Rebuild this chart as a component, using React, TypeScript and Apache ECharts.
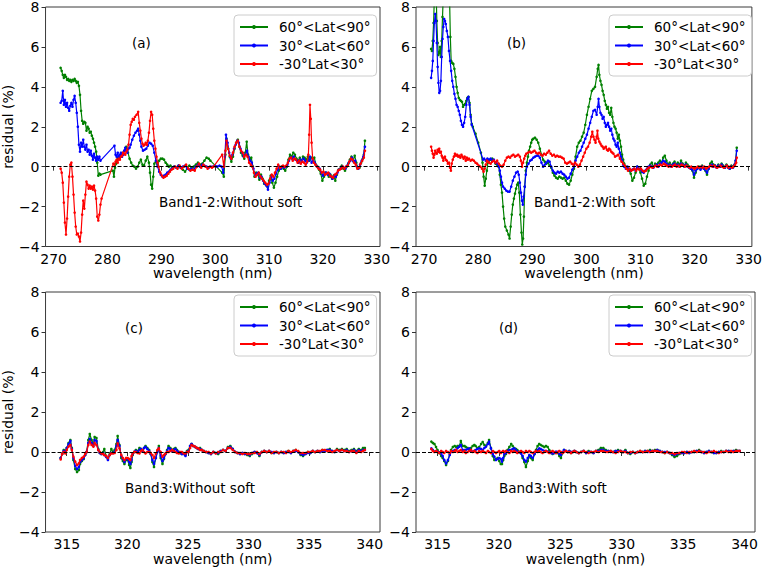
import React, { useEffect, useRef } from 'react';
import * as echarts from 'echarts';

const LEGEND_NAMES = ['60°<Lat<90°', '30°<Lat<60°', '-30°Lat<30°'];
const COLORS = ['#008000', '#0000ff', '#ff0000'];
const band12Ticks = [270, 280, 290, 300, 310, 320, 330];
const band3Ticks = [315, 320, 325, 330, 335, 340];

// (a) Band1-2 without soft
const aGreen: number[][] = [
  [271.3,4.95],[271.5,4.8],[271.7,4.6],[271.9,4.45],[272.1,4.6],[272.3,4.5],[272.5,4.35],[272.7,4.4],[272.9,4.3],[273.1,4.35],
  [273.3,4.25],[273.5,4.35],[273.7,4.3],[273.9,4.4],[274.1,4.3],[274.3,4.2],[274.5,4.25],[274.7,4.05],[274.9,3.6],[275.1,2.8],
  [275.3,2.3],[275.5,2.15],[275.7,2.25],[275.9,2.2],[276.1,1.8],[276.3,2.0],[276.5,1.9],[276.7,1.7],[276.9,1.75],[277.1,1.55],
  [277.3,1.4],[277.5,1.2],[277.7,1.0],[277.9,0.75],[278.1,0.2],[278.3,-0.45],[278.5,-0.35],[278.7,-0.4],[281.0,-0.2],[281.2,-0.5],
  [281.4,-0.05],[281.6,0.15],[281.8,0.35],[282.0,0.45],[282.3,0.55],[282.6,0.5],[282.9,0.7],[283.2,0.8],[283.5,1.0],[283.8,0.7],
  [284.1,0.4],[284.4,0.2],[284.7,0.05],[285.0,0.0],[285.3,-0.1],[285.6,0.0],[285.9,0.2],[286.2,0.35],[286.5,0.1],[286.8,0.05],
  [287.1,0.3],[287.4,0.5],[287.7,0.2],[287.9,-0.3],[288.1,-0.9],[288.3,-1.1],[288.5,-0.5],[288.7,0.15],[289.0,0.25],[289.3,0.1],
  [289.6,0.3],[289.9,0.4],[290.2,0.4],[290.5,0.35],[290.8,0.2],[291.1,0.1],[291.4,0.0],[291.7,0.05],[292.0,-0.1],[292.4,0.0],
  [292.8,-0.05],[293.2,0.05],[293.6,-0.05],[294.0,-0.15],[294.4,-0.25],[294.8,-0.1],[295.2,0.05],[295.6,-0.05],[296.0,0.0],[296.4,0.1],
  [296.8,0.2],[297.2,0.1],[297.6,0.15],[298.0,0.3],[298.4,0.45],[298.8,0.4],[299.1,0.3],[301.3,-0.3],[301.6,-0.5],[301.9,0.6],
  [302.1,1.4],[302.4,0.9],[302.7,0.5],[303.0,0.25],[303.3,0.5],[303.6,0.9],[303.9,1.2],[304.2,1.35],[304.5,1.0],[304.8,0.7],
  [305.1,0.55],[305.4,0.4],[305.6,0.7],[305.85,1.25],[306.1,0.6],[306.4,0.35],[306.7,0.45],[307.0,0.0],[307.3,-0.5],[307.6,-0.3],
  [307.9,-0.4],[308.2,-0.65],[308.5,-0.4],[308.8,-0.6],[309.1,-0.85],[309.4,-0.9],[309.7,-1.0],[310.0,-0.7],[310.3,-0.45],[310.6,-0.8],
  [310.9,-1.05],[311.2,-0.8],[311.5,-0.5],[311.8,-0.2],[312.1,-0.1],[312.4,0.0],[312.7,-0.1],[313.0,-0.2],[313.3,0.0],[313.6,0.35],
  [313.9,0.6],[314.2,0.5],[314.5,0.7],[314.8,0.6],[315.1,0.4],[315.4,0.3],[315.7,0.45],[316.0,0.3],[316.3,0.5],[316.6,0.45],
  [316.9,0.35],[317.2,0.5],[317.5,0.3],[317.8,0.45],[318.1,0.4],[318.4,0.45],[318.7,0.1],[319.0,0.0],[319.3,-0.15],[319.6,-0.35],
  [319.9,-0.7],[320.2,-0.5],[320.5,-0.3],[320.8,-0.35],[321.1,-0.5],[321.4,-0.4],[321.7,-0.6],[322.0,-0.45],[322.3,-0.7],[322.6,-0.4],
  [322.9,-0.15],[323.2,-0.1],[323.5,0.05],[323.8,-0.1],[324.1,-0.2],[324.4,0.0],[324.7,0.15],[325.0,0.35],[325.3,0.5],[325.6,0.3],
  [325.9,0.55],[326.2,0.2],[326.5,-0.1],[326.8,-0.05],[327.1,0.2],[327.4,0.4],[327.6,0.6],[327.8,1.3]
];
const aBlue: number[][] = [
  [271.3,3.2],[271.5,3.3],[271.7,3.8],[271.9,3.1],[272.1,3.35],[272.3,3.0],[272.5,3.2],[272.7,2.95],[272.9,2.8],[273.1,3.05],
  [273.3,3.2],[273.5,3.0],[273.7,3.35],[273.9,3.55],[274.1,3.2],[274.3,2.7],[274.5,2.0],[274.7,1.1],[274.9,0.75],[275.1,1.2],
  [275.3,1.0],[275.5,1.35],[275.7,1.0],[275.9,0.85],[276.1,1.1],[276.3,0.75],[276.5,0.85],[276.7,0.6],[276.9,0.8],[277.1,0.55],
  [277.3,0.35],[277.5,0.65],[277.7,0.45],[277.9,0.3],[278.1,0.5],[278.3,0.35],[278.5,0.5],[278.7,0.3],[281.3,1.05],[281.5,0.6],
  [281.7,0.5],[281.9,0.7],[282.1,0.45],[282.3,0.6],[282.5,0.7],[282.7,0.5],[282.9,0.6],[283.1,0.8],[283.3,0.95],[283.5,0.8],
  [283.7,0.7],[283.9,0.9],[284.1,0.95],[284.3,1.1],[284.6,1.35],[284.9,1.55],[285.2,1.7],[285.5,1.8],[285.7,1.9],[285.9,1.6],
  [286.1,1.3],[286.3,1.0],[286.6,0.8],[286.9,0.85],[287.2,0.9],[287.5,1.05],[287.8,1.2],[288.1,1.15],[288.4,1.05],[288.7,0.7],
  [289.0,0.3],[289.3,0.0],[289.6,-0.25],[289.9,-0.4],[290.2,-0.5],[290.5,-0.45],[290.8,-0.4],[291.1,-0.3],[291.4,-0.25],[291.7,-0.15],
  [292.0,-0.1],[292.4,0.0],[292.8,-0.05],[293.2,0.05],[293.6,-0.05],[294.0,0.0],[294.4,0.05],[294.8,-0.1],[295.2,-0.15],[295.6,-0.1],
  [296.0,-0.15],[296.4,0.0],[296.8,0.1],[297.2,0.0],[297.6,0.1],[298.0,0.05],[298.4,0.0],[298.8,-0.05],[299.2,0.0],[299.6,0.0],
  [300.0,0.05],[300.4,0.0],[300.8,0.05],[301.2,0.0],[301.5,-0.3],[301.8,0.5],[302.0,1.6],[302.3,1.2],[302.6,0.7],[302.9,0.4],
  [303.2,0.6],[303.5,0.9],[303.8,1.1],[304.1,1.3],[304.4,1.2],[304.7,0.9],[305.0,0.7],[305.3,0.5],[305.6,0.6],[305.9,0.8],
  [306.2,0.5],[306.5,0.3],[306.8,0.2],[307.1,-0.1],[307.4,-0.45],[307.7,-0.35],[308.0,-0.3],[308.3,-0.55],[308.6,-0.5],[308.9,-0.7],
  [309.2,-0.85],[309.5,-0.95],[309.8,-1.15],[310.1,-0.8],[310.4,-0.5],[310.7,-0.7],[311.0,-0.6],[311.3,-0.35],[311.6,-0.15],[311.9,0.0],
  [312.2,-0.1],[312.5,0.0],[312.8,-0.05],[313.1,0.0],[313.4,0.1],[313.7,0.3],[314.0,0.45],[314.3,0.4],[314.6,0.5],[314.9,0.35],
  [315.2,0.3],[315.5,0.2],[315.8,0.35],[316.1,0.25],[316.4,0.4],[316.7,0.3],[317.0,0.2],[317.3,0.3],[317.6,0.5],[317.9,0.2],
  [318.2,0.3],[318.5,0.2],[318.8,0.05],[319.1,-0.05],[319.4,-0.1],[319.7,-0.3],[320.0,-0.45],[320.3,-0.35],[320.6,-0.3],[320.9,-0.4],
  [321.2,-0.35],[321.5,-0.5],[321.8,-0.6],[322.1,-0.45],[322.4,-0.5],[322.7,-0.3],[323.0,-0.15],[323.3,-0.1],[323.6,0.0],[323.9,-0.05],
  [324.2,-0.1],[324.5,0.05],[324.8,0.2],[325.1,0.3],[325.4,0.45],[325.7,0.25],[326.0,0.3],[326.3,0.0],[326.6,-0.1],[326.9,0.1],
  [327.2,0.3],[327.5,0.5],[327.8,1.0]
];
const aRed: number[][] = [
  [271.3,-0.1],[271.5,-0.3],[271.7,-0.8],[271.9,-1.8],[272.1,-2.8],[272.3,-3.4],[272.5,-2.6],[272.7,-1.5],[272.9,-0.5],[273.1,0.1],
  [273.3,0.2],[273.5,-0.5],[273.7,-1.4],[273.9,-2.3],[274.1,-3.0],[274.3,-3.4],[274.5,-3.35],[274.7,-3.5],[274.9,-3.75],[275.1,-3.3],
  [275.3,-2.4],[275.5,-1.7],[275.7,-2.1],[275.9,-1.4],[276.1,-0.75],[276.3,-0.9],[276.5,-1.1],[276.7,-0.95],[276.9,-1.1],[277.1,-1.0],
  [277.3,-1.15],[277.5,-0.95],[277.7,-1.2],[277.9,-1.6],[278.1,-2.5],[278.3,-2.7],[278.5,-2.4],[278.7,-1.9],[278.9,-1.6],[281.1,0.15],
  [281.3,0.1],[281.5,0.25],[281.7,0.35],[281.9,0.2],[282.1,0.4],[282.3,0.35],[282.5,0.5],[282.7,0.55],[282.9,0.7],[283.1,0.65],
  [283.3,0.6],[283.5,0.75],[283.7,0.85],[283.9,1.1],[284.1,1.6],[284.3,2.1],[284.5,2.25],[284.7,2.4],[284.9,2.35],[285.1,2.5],
  [285.4,2.6],[285.7,2.75],[285.9,2.2],[286.1,1.8],[286.3,1.4],[286.5,1.15],[286.7,1.05],[286.9,1.1],[287.1,1.2],[287.3,1.1],
  [287.5,1.3],[287.7,1.7],[287.9,2.3],[288.1,2.75],[288.3,2.6],[288.5,1.9],[288.7,1.3],[288.9,0.9],[289.1,0.5],[289.3,0.2],
  [289.5,0.0],[289.8,-0.3],[290.1,-0.45],[290.4,-0.55],[290.7,-0.5],[291.0,-0.45],[291.3,-0.35],[291.6,-0.25],[291.9,-0.15],[292.2,-0.1],
  [292.6,0.0],[293.0,-0.1],[293.4,0.05],[293.8,-0.1],[294.2,0.0],[294.6,0.1],[295.0,-0.1],[295.4,-0.2],[295.8,-0.15],[296.2,-0.2],
  [296.6,0.0],[297.0,0.15],[297.4,-0.05],[297.8,0.1],[298.2,0.0],[298.6,-0.1],[299.0,0.0],[299.4,-0.05],[299.7,0.0],[301.3,0.6],
  [301.6,0.0],[301.9,0.8],[302.1,1.3],[302.4,0.9],[302.7,0.55],[303.0,0.4],[303.3,0.7],[303.6,1.0],[303.9,1.2],[304.2,1.3],
  [304.5,1.0],[304.8,0.8],[305.1,0.7],[305.4,0.5],[305.7,0.6],[306.0,0.5],[306.3,0.2],[306.6,0.1],[306.9,0.0],[307.2,-0.3],
  [307.5,-0.5],[307.8,-0.4],[308.1,-0.3],[308.4,-0.5],[308.7,-0.6],[309.0,-0.7],[309.3,-0.8],[309.6,-0.9],[309.9,-0.85],[310.2,-0.6],
  [310.5,-0.4],[310.8,-0.5],[311.1,-0.3],[311.4,-0.1],[311.7,0.1],[312.0,-0.05],[312.3,0.0],[312.6,0.05],[312.9,0.0],[313.2,0.05],
  [313.5,0.2],[313.8,0.4],[314.1,0.45],[314.4,0.3],[314.7,0.4],[315.0,0.35],[315.3,0.2],[315.6,0.3],[315.9,0.15],[316.2,0.25],
  [316.5,0.2],[316.8,0.1],[317.1,0.25],[317.3,0.6],[317.45,1.6],[317.6,3.1],[317.75,2.4],[317.9,1.2],[318.1,0.4],[318.3,0.2],
  [318.6,0.1],[318.9,0.0],[319.2,-0.1],[319.5,-0.15],[319.8,-0.3],[320.1,-0.25],[320.4,-0.4],[320.7,-0.35],[321.0,-0.3],[321.3,-0.45],
  [321.6,-0.5],[321.9,-0.55],[322.2,-0.4],[322.5,-0.35],[322.8,-0.2],[323.1,-0.15],[323.4,-0.1],[323.7,0.0],[324.0,-0.1],[324.3,0.0],
  [324.6,0.05],[324.9,0.25],[325.2,0.4],[325.5,0.35],[325.8,0.2],[326.1,0.1],[326.4,-0.1],[326.7,-0.05],[327.0,0.15],[327.3,0.3],
  [327.6,0.45],[327.8,0.8]
];

// (b) Band1-2 with soft
const bGreen: number[][] = [
  [271.3,5.9],[271.45,5.8],[271.6,6.3],[271.75,7.2],[271.9,8.5],[272.05,9.5],[272.2,9.0],[272.35,7.3],[272.5,6.2],[272.65,5.6],
  [272.8,5.7],[272.95,6.0],[273.1,5.5],[273.25,6.3],[273.4,7.5],[273.55,8.6],[273.7,9.5],[273.9,10],[274.2,10],[274.5,9.5],
  [274.7,8.5],[274.85,6.5],[275.0,5.3],[275.2,5.2],[275.4,5.15],[275.6,4.9],[275.8,4.5],[276.0,4.0],[276.2,3.7],[276.4,3.45],
  [276.6,3.35],[276.8,3.3],[277.0,3.25],[277.2,3.0],[277.4,3.1],[277.6,3.15],[277.8,3.3],[278.0,3.45],[278.2,3.5],[278.4,3.2],
  [278.6,2.6],[278.8,2.15],[279.0,2.0],[279.5,1.65],[280.0,1.2],[280.5,0.7],[280.8,0.2],[281.0,-0.5],[281.2,-0.95],[281.4,-0.6],
  [281.6,-0.2],[281.8,0.2],[282.0,0.3],[282.3,0.35],[282.6,0.4],[282.9,0.3],[283.2,0.15],[283.5,0.1],[283.8,0.0],[284.0,-0.4],
  [284.2,-0.9],[284.4,-1.3],[284.6,-2.0],[284.8,-2.6],[285.0,-3.0],[285.3,-3.2],[285.6,-3.4],[285.8,-3.6],[286.0,-3.0],[286.2,-2.4],
  [286.4,-1.9],[286.6,-1.6],[286.8,-1.35],[287.0,-1.1],[287.2,-0.9],[287.4,-0.8],[287.6,-1.3],[287.8,-2.4],[288.0,-3.3],[288.15,-3.9],
  [288.3,-3.6],[288.45,-2.5],[288.6,-1.0],[288.8,-0.2],[289.0,0.2],[289.2,0.5],[289.4,0.8],[289.6,1.0],[289.8,1.2],[290.0,1.35],
  [290.2,1.4],[290.5,1.45],[290.8,1.35],[291.1,1.2],[291.4,0.9],[291.7,0.6],[292.0,0.35],[292.3,0.25],[292.6,0.15],[292.9,0.2],
  [293.2,0.05],[293.5,-0.05],[293.8,-0.3],[294.1,-0.45],[294.4,-0.55],[294.7,-0.6],[295.0,-0.5],[295.3,-0.55],[295.6,-0.6],[295.9,-0.55],
  [296.2,-0.7],[296.5,-0.85],[296.8,-0.9],[297.1,-0.7],[297.4,-0.4],[297.7,-0.1],[298.0,0.5],[298.3,1.0],[298.6,1.2],[298.9,1.3],
  [299.2,1.5],[299.5,1.7],[299.8,2.1],[300.1,2.6],[300.4,3.0],[300.7,3.4],[301.0,3.8],[301.3,3.9],[301.6,4.0],[301.9,4.5],
  [302.1,4.9],[302.25,5.1],[302.4,4.6],[302.6,4.3],[302.8,4.1],[303.0,3.8],[303.2,3.6],[303.4,3.3],[303.6,3.1],[303.8,2.9],
  [304.0,3.0],[304.2,2.7],[304.4,2.6],[304.6,2.95],[304.8,2.5],[305.0,2.2],[305.2,2.0],[305.4,1.9],[305.6,1.7],[305.8,1.4],
  [306.0,1.6],[306.2,1.3],[306.4,1.0],[306.6,0.6],[306.8,0.35],[307.0,0.15],[307.3,0.0],[307.6,-0.1],[307.9,-0.2],[308.2,-0.35],
  [308.5,-0.7],[308.8,-0.55],[309.1,-0.3],[309.4,0.0],[309.7,-0.1],[310.0,-0.3],[310.3,-0.6],[310.6,-0.95],[310.9,-0.85],[311.2,-0.5],
  [311.5,-0.2],[311.8,0.1],[312.1,0.2],[312.4,0.0],[312.7,0.15],[313.0,0.1],[313.3,0.2],[313.6,0.3],[313.9,0.2],[314.2,0.45],
  [314.5,0.55],[314.8,0.3],[315.1,0.1],[315.4,0.2],[315.7,0.05],[316.0,0.15],[316.3,0.25],[316.6,0.1],[316.9,0.2],[317.2,0.1],
  [317.5,0.3],[317.8,0.15],[318.1,0.05],[318.4,0.2],[318.7,0.1],[319.0,0.0],[319.3,-0.1],[319.6,-0.2],[319.9,-0.55],[320.2,-0.3],
  [320.5,-0.1],[320.8,0.0],[321.1,-0.1],[321.4,0.05],[321.7,-0.05],[322.0,-0.2],[322.3,-0.4],[322.6,-0.1],[322.9,0.15],[323.2,0.25],
  [323.5,0.1],[323.8,0.05],[324.1,-0.05],[324.4,0.1],[324.7,0.0],[325.0,0.15],[325.3,0.05],[325.6,-0.05],[325.9,0.1],[326.2,0.0],
  [326.5,-0.1],[326.8,0.05],[327.1,0.0],[327.4,0.1],[327.6,0.3],[327.8,0.95]
];
const bBlue: number[][] = [
  [271.3,4.45],[271.45,4.8],[271.6,5.3],[271.75,6.3],[271.9,7.2],[272.05,7.65],[272.2,7.3],[272.35,6.2],[272.5,5.0],[272.65,4.2],
  [272.8,3.7],[272.95,3.8],[273.1,4.3],[273.25,5.5],[273.4,6.4],[273.55,7.0],[273.7,7.4],[273.85,7.3],[274.0,7.15],[274.2,6.8],
  [274.4,6.5],[274.6,5.8],[274.8,5.3],[275.0,4.8],[275.2,4.3],[275.4,4.0],[275.6,3.65],[275.8,3.4],[276.0,3.1],[276.2,3.0],
  [276.4,2.8],[276.6,2.6],[276.8,2.3],[277.0,2.1],[277.2,2.0],[277.4,2.2],[277.6,2.5],[277.8,3.1],[278.0,3.4],[278.2,3.5],
  [278.4,3.1],[278.6,2.5],[278.8,2.1],[280.9,0.35],[281.1,0.4],[281.4,0.3],[281.7,0.4],[282.0,0.35],[282.3,0.4],[282.6,0.3],
  [282.9,0.35],[283.2,0.2],[283.5,0.15],[283.8,0.0],[284.0,-0.2],[284.2,-0.5],[284.4,-0.8],[284.6,-1.0],[284.9,-1.1],[285.2,-1.2],
  [285.5,-1.25],[285.8,-1.25],[286.1,-1.0],[286.4,-0.7],[286.7,-0.5],[287.0,-0.3],[287.3,-0.25],[287.5,-0.4],[287.7,-0.8],[287.9,-1.3],
  [288.1,-1.7],[288.25,-1.9],[288.4,-1.5],[288.6,-1.0],[288.8,-0.4],[289.0,0.0],[289.3,0.15],[289.6,0.3],[289.9,0.35],[290.2,0.45],
  [290.5,0.5],[290.8,0.55],[291.1,0.55],[291.4,0.45],[291.7,0.2],[292.0,0.0],[292.3,0.1],[292.6,0.2],[292.9,0.3],[293.2,0.25],
  [293.5,0.0],[293.8,-0.2],[294.1,-0.3],[294.4,-0.35],[294.7,-0.25],[295.0,-0.3],[295.3,-0.25],[295.6,-0.35],[295.9,-0.4],[296.2,-0.5],
  [296.5,-0.6],[296.8,-0.55],[297.1,-0.35],[297.4,-0.15],[297.7,0.0],[298.0,0.3],[298.3,0.5],[298.6,0.7],[298.9,0.8],[299.2,1.0],
  [299.5,1.2],[299.8,1.4],[300.1,1.6],[300.4,1.9],[300.7,2.2],[301.0,2.5],[301.3,2.8],[301.6,2.85],[301.9,2.6],[302.1,3.0],
  [302.25,3.4],[302.4,3.0],[302.6,2.7],[302.8,2.6],[303.0,2.4],[303.2,2.5],[303.4,2.2],[303.6,2.0],[303.8,2.1],[304.0,2.2],
  [304.2,2.0],[304.4,1.8],[304.6,1.9],[304.8,1.6],[305.0,1.4],[305.2,1.3],[305.4,1.1],[305.6,1.0],[305.8,1.2],[306.0,0.9],
  [306.2,0.7],[306.4,0.5],[306.6,0.3],[306.8,0.1],[307.0,0.0],[307.3,-0.1],[307.6,0.0],[307.9,-0.15],[308.2,-0.2],[308.5,-0.15],
  [308.8,-0.1],[309.1,-0.2],[309.4,0.0],[309.7,-0.1],[310.0,-0.15],[310.3,-0.25],[310.6,-0.3],[310.9,-0.2],[311.2,-0.1],[311.5,0.0],
  [311.8,0.05],[312.1,0.0],[312.4,-0.05],[312.7,0.05],[313.0,0.1],[313.3,0.0],[313.6,0.15],[313.9,0.2],[314.2,0.3],[314.5,0.25],
  [314.8,0.15],[315.1,0.05],[315.4,0.1],[315.7,0.0],[316.0,0.1],[316.3,0.15],[316.6,0.05],[316.9,0.1],[317.2,0.0],[317.5,0.15],
  [317.8,0.1],[318.1,0.0],[318.4,0.1],[318.7,0.0],[319.0,-0.05],[319.3,-0.1],[319.6,-0.15],[319.9,-0.4],[320.2,-0.2],[320.5,-0.1],
  [320.8,-0.05],[321.1,-0.15],[321.4,0.0],[321.7,-0.1],[322.0,-0.15],[322.3,-0.3],[322.6,-0.1],[322.9,0.05],[323.2,0.1],[323.5,0.0],
  [323.8,0.05],[324.1,-0.05],[324.4,0.05],[324.7,0.0],[325.0,0.1],[325.3,0.0],[325.6,-0.05],[325.9,0.05],[326.2,-0.05],[326.5,-0.1],
  [326.8,0.0],[327.1,-0.05],[327.4,0.1],[327.6,0.3],[327.8,0.8]
];
const bRed: number[][] = [
  [271.3,1.0],[271.45,0.8],[271.6,0.65],[271.75,0.45],[271.9,0.6],[272.05,0.8],[272.2,0.7],[272.35,0.65],[272.5,0.85],[272.65,0.75],
  [272.8,0.9],[272.95,0.7],[273.1,0.75],[273.25,0.55],[273.4,0.45],[273.55,0.3],[273.7,0.45],[273.85,0.5],[274.0,0.35],[274.2,0.3],
  [274.4,0.15],[274.6,0.2],[274.8,-0.05],[274.95,-0.2],[275.1,0.15],[275.3,0.35],[275.5,0.5],[275.7,0.65],[275.9,0.55],[276.1,0.6],
  [276.3,0.5],[276.5,0.55],[276.7,0.45],[276.9,0.6],[277.1,0.5],[277.3,0.4],[277.5,0.5],[277.7,0.3],[277.9,0.45],[278.1,0.35],
  [278.3,0.4],[278.6,0.3],[278.9,0.35],[279.2,0.3],[279.5,0.2],[279.8,0.15],[280.1,0.05],[280.4,0.0],[280.7,-0.1],[281.0,-0.25],
  [281.2,-0.1],[281.4,0.1],[281.6,0.3],[281.8,0.25],[282.0,0.2],[282.3,0.15],[282.6,0.25],[282.9,0.3],[283.2,0.2],[283.5,0.3],
  [283.8,0.15],[284.1,0.05],[284.4,0.0],[284.7,0.1],[285.0,0.3],[285.3,0.45],[285.6,0.5],[285.9,0.45],[286.2,0.55],[286.5,0.6],
  [286.8,0.5],[287.1,0.55],[287.4,0.6],[287.7,0.5],[287.9,0.3],[288.1,0.0],[288.3,0.2],[288.5,0.4],[288.7,0.55],[288.9,0.65],
  [289.2,0.7],[289.5,0.75],[289.8,0.7],[290.1,0.75],[290.4,0.8],[290.7,0.7],[291.0,0.65],[291.3,0.7],[291.6,0.6],[291.9,0.55],
  [292.2,0.65],[292.5,0.6],[292.8,0.7],[293.1,0.8],[293.4,0.65],[293.7,0.55],[294.0,0.6],[294.3,0.5],[294.6,0.55],[294.9,0.5],
  [295.2,0.5],[295.5,0.45],[295.8,0.4],[296.1,0.2],[296.4,0.15],[296.7,0.2],[297.0,0.25],[297.3,0.15],[297.6,0.1],[297.9,0.2],
  [298.2,0.1],[298.5,0.0],[298.8,0.1],[299.1,0.3],[299.4,0.5],[299.7,0.7],[300.0,0.9],[300.3,1.0],[300.6,1.2],[300.9,1.5],
  [301.1,1.75],[301.3,1.5],[301.5,1.35],[301.7,1.2],[301.9,1.5],[302.05,1.8],[302.2,1.4],[302.4,1.25],[302.6,1.15],[302.8,1.05],
  [303.0,1.0],[303.2,0.9],[303.4,0.95],[303.6,1.0],[303.8,0.85],[304.0,0.8],[304.2,0.9],[304.4,0.85],[304.6,0.75],[304.8,0.7],
  [305.0,0.65],[305.3,0.5],[305.6,0.55],[305.9,0.6],[306.2,0.4],[306.5,0.25],[306.8,0.15],[307.1,0.05],[307.4,-0.1],[307.7,-0.2],
  [308.0,-0.1],[308.3,-0.2],[308.6,-0.15],[308.9,-0.1],[309.2,-0.2],[309.5,-0.1],[309.8,-0.15],[310.1,-0.1],[310.4,-0.2],[310.7,-0.25],
  [311.0,-0.2],[311.3,-0.1],[311.6,-0.05],[311.9,0.0],[312.2,-0.05],[312.5,0.0],[312.8,0.05],[313.1,0.0],[313.4,0.05],[313.7,0.1],
  [314.0,0.05],[314.3,0.15],[314.6,0.1],[314.9,0.05],[315.2,0.0],[315.5,0.05],[315.8,0.0],[316.1,0.05],[316.4,0.1],[316.7,0.0],
  [317.0,0.05],[317.3,0.0],[317.6,0.1],[317.9,0.05],[318.2,0.0],[318.5,0.05],[318.8,0.0],[319.1,-0.05],[319.4,0.0],[319.7,-0.05],
  [320.0,-0.1],[320.3,-0.05],[320.6,0.0],[320.9,-0.05],[321.2,0.0],[321.5,-0.05],[321.8,0.0],[322.1,-0.1],[322.4,-0.05],[322.7,0.0],
  [323.0,0.05],[323.3,0.0],[323.6,0.05],[323.9,0.0],[324.2,-0.05],[324.5,0.0],[324.8,0.05],[325.1,0.0],[325.4,-0.05],[325.7,0.0],
  [326.0,0.05],[326.3,-0.05],[326.6,0.0],[326.9,-0.05],[327.2,0.0],[327.5,0.1],[327.7,0.2],[327.8,0.45]
];

// Band3 wavelengths shared by (c) and (d)
const band3X = [
  314.5, 314.62, 314.75, 314.88, 315.0, 315.15, 315.3, 315.42, 315.55, 315.7,
  315.85, 316.0, 316.1, 316.25, 316.4, 316.52, 316.64, 316.78, 316.9, 317.05,
  317.2, 317.3, 317.45, 317.6, 317.73, 317.86, 318.0, 318.1, 318.25, 318.4,
  318.55, 318.68, 318.82, 318.95, 319.1, 319.2, 319.35, 319.5, 319.63, 319.76,
  319.9, 320.03, 320.15, 320.25, 320.35, 320.44, 320.57, 320.7, 320.85, 321.0,
  321.12, 321.25, 321.38, 321.5, 321.65, 321.8, 321.93, 322.07, 322.2, 322.35,
  322.48, 322.6, 322.75, 322.9, 323.02, 323.15, 323.28, 323.4, 323.55, 323.7,
  323.83, 323.97, 324.1, 324.24, 324.37, 324.5, 324.65, 324.8, 324.92, 325.05,
  325.18, 325.3, 325.45, 325.6, 325.73, 325.87, 326.0, 326.15, 326.3, 326.5,
  326.7, 326.9, 327.1, 327.3, 327.5, 327.7, 327.9, 328.1, 328.3, 328.5,
  328.7, 328.9, 329.1, 329.3, 329.5, 329.7, 329.9, 330.1, 330.3, 330.5,
  330.7, 330.9, 331.1, 331.3, 331.5, 331.7, 331.9, 332.1, 332.3, 332.5,
  332.7, 332.9, 333.1, 333.3, 333.5, 333.7, 333.9, 334.1, 334.3, 334.5,
  334.7, 334.9, 335.1, 335.3, 335.5, 335.7, 335.9, 336.1, 336.3, 336.5,
  336.7, 336.9, 337.1, 337.3, 337.5, 337.7, 337.9, 338.1, 338.3, 338.5,
  338.7, 338.9, 339.1, 339.3, 339.45, 339.6
];
// (c) Band3 without soft
const cGreen = [
  -0.3, -0.1, 0.1, 0.05, 0.2, 0.45, 0.6, 0.2, -0.4, -0.85,
  -1.0, -0.9, -0.6, -0.45, -0.35, -0.15, 0.0, 0.6, 0.9, 0.6,
  0.4, 0.75, 0.7, 0.15, -0.05, -0.1, 0.0, 0.15, -0.2, -0.35,
  -0.1, 0.15, 0.0, 0.1, 0.4, 0.8, 0.35, -0.3, -0.45, -0.6,
  -0.4, -0.4, -0.65, -0.8, -0.5, -0.15, 0.0, 0.1, 0.05, 0.2,
  0.15, 0.1, 0.2, 0.3, 0.2, 0.1, -0.1, -0.5, -0.75, -0.3,
  0.05, 0.3, -0.3, -0.6, -0.35, -0.1, 0.1, 0.3, 0.2, 0.1,
  0.15, 0.2, 0.1, 0.0, -0.05, -0.1, -0.05, -0.15, 0.05, 0.1,
  0.3, 0.4, 0.3, 0.25, 0.2, 0.15, 0.2, 0.1, 0.05, 0.0,
  -0.05, -0.1, 0.0, -0.05, -0.1, 0.05, 0.1, 0.05, 0.25, 0.3,
  0.15, 0.0, -0.05, -0.1, -0.05, -0.1, -0.15, -0.2, -0.1, 0.0,
  -0.05, -0.2, 0.0, 0.05, 0.0, 0.05, -0.05, -0.05, 0.0, -0.05,
  0.0, -0.05, 0.0, 0.05, -0.05, 0.05, 0.1, 0.0, -0.15, -0.2,
  -0.1, 0.0, -0.05, 0.05, 0.0, 0.05, 0.0, 0.1, 0.05, 0.1,
  0.15, 0.05, 0.0, 0.15, 0.1, 0.15, 0.1, 0.15, 0.05, 0.1,
  0.15, 0.05, 0.15, 0.1, 0.2, 0.2
];
const cBlue = [
  -0.3, -0.1, 0.05, 0.0, 0.2, 0.4, 0.55, 0.15, -0.3, -0.7,
  -0.85, -0.75, -0.5, -0.4, -0.3, -0.15, 0.0, 0.45, 0.65, 0.45,
  0.3, 0.6, 0.55, 0.1, -0.05, -0.1, -0.05, -0.15, -0.25, -0.4,
  -0.15, -0.05, -0.05, 0.0, 0.3, 0.6, 0.3, -0.2, -0.35, -0.5,
  -0.35, -0.35, -0.5, -0.6, -0.4, -0.1, 0.0, 0.05, 0.0, 0.1,
  0.15, 0.05, 0.2, 0.25, 0.15, 0.05, -0.1, -0.4, -0.6, -0.3,
  0.0, 0.2, -0.2, -0.45, -0.3, -0.1, 0.05, 0.2, 0.15, 0.05,
  0.1, 0.15, 0.05, 0.0, -0.05, -0.1, -0.1, -0.2, 0.0, 0.05,
  0.3, 0.4, 0.3, 0.25, 0.2, 0.15, 0.15, 0.1, 0.05, 0.0,
  -0.05, -0.1, 0.0, -0.05, -0.05, 0.05, 0.1, 0.05, 0.2, 0.25,
  0.15, 0.0, -0.05, -0.1, -0.05, -0.1, -0.1, -0.15, -0.05, 0.0,
  -0.05, -0.15, 0.0, 0.05, 0.0, 0.05, 0.0, -0.05, 0.0, -0.05,
  0.0, -0.05, 0.0, 0.0, -0.05, 0.05, 0.05, 0.0, -0.1, -0.15,
  -0.1, -0.05, -0.05, 0.05, 0.0, 0.05, 0.0, 0.05, 0.05, 0.1,
  0.1, 0.05, 0.0, 0.1, 0.05, 0.1, 0.05, 0.1, 0.0, 0.05,
  0.1, 0.0, 0.1, 0.05, 0.1, 0.1
];
const cRed = [
  -0.37, -0.1, 0.0, -0.07, 0.1, 0.27, 0.35, 0.1, -0.23, -0.48,
  -0.65, -0.57, -0.4, -0.3, -0.23, -0.1, 0.0, 0.35, 0.52, 0.35,
  0.27, 0.45, 0.35, 0.1, 0.0, -0.07, -0.1, -0.15, -0.2, -0.3,
  -0.15, -0.07, -0.07, -0.05, 0.1, 0.43, 0.18, -0.15, -0.3, -0.4,
  -0.3, -0.3, -0.35, -0.4, -0.2, -0.07, 0.0, 0.0, -0.05, -0.07,
  0.05, 0.1, 0.0, -0.07, 0.0, 0.0, -0.05, -0.15, -0.3, -0.07,
  0.1, 0.18, 0.0, -0.23, -0.15, -0.07, 0.0, 0.0, 0.05, 0.1,
  0.05, 0.0, -0.05, -0.07, 0.0, 0.0, -0.07, -0.07, 0.0, 0.0,
  0.2, 0.35, 0.3, 0.27, 0.2, 0.18, 0.1, 0.1, 0.05, 0.0,
  0.0, -0.07, 0.0, -0.07, 0.0, 0.0, 0.1, 0.05, 0.2, 0.2,
  0.1, 0.0, -0.05, -0.05, -0.1, -0.05, -0.1, -0.1, -0.05, -0.05,
  0.0, -0.1, 0.0, 0.05, 0.0, 0.05, -0.05, 0.0, 0.0, -0.05,
  0.0, 0.0, -0.05, 0.05, 0.0, 0.05, 0.1, 0.05, -0.05, -0.05,
  -0.05, 0.0, 0.0, 0.05, 0.0, 0.05, 0.05, 0.1, 0.1, 0.05,
  0.05, 0.0, 0.05, 0.1, 0.05, 0.1, 0.05, 0.05, 0.0, 0.05,
  0.05, -0.05, 0.05, 0.0, 0.05, 0.1
];
// (d) Band3 with soft
const dGreen = [
  0.52, 0.45, 0.4, 0.25, 0.1, -0.05, -0.2, -0.3, -0.45, -0.65,
  -0.45, -0.1, 0.1, 0.25, 0.3, 0.25, 0.3, 0.3, 0.55, 0.3,
  0.3, 0.25, 0.2, 0.1, 0.2, 0.3, 0.35, 0.3, 0.2, 0.25,
  0.4, 0.5, 0.35, 0.3, 0.45, 0.6, 0.2, -0.2, -0.4, -0.35,
  -0.3, -0.45, -0.6, -0.6, -0.4, -0.2, -0.1, 0.1, 0.25, 0.4,
  0.3, 0.2, 0.15, 0.1, 0.0, -0.05, -0.3, -0.5, -0.75, -0.45,
  -0.2, -0.3, -0.4, -0.1, 0.1, 0.3, 0.4, 0.35, 0.3, 0.25,
  0.3, 0.25, 0.1, 0.0, -0.1, -0.05, -0.05, -0.05, -0.2, -0.3,
  -0.05, 0.1, 0.05, 0.0, 0.05, -0.05, 0.0, 0.05, 0.0, -0.05,
  0.0, 0.05, -0.05, 0.05, 0.0, -0.05, 0.05, 0.1, 0.2, 0.2,
  0.1, 0.05, 0.05, 0.0, 0.05, 0.1, 0.05, 0.0, 0.1, -0.05,
  -0.1, 0.0, -0.05, 0.0, 0.05, 0.0, 0.05, 0.05, 0.1, 0.05,
  0.1, 0.1, 0.05, 0.0, -0.05, 0.0, -0.05, -0.15, -0.25, -0.2,
  -0.1, -0.05, -0.05, 0.0, -0.05, 0.0, 0.0, 0.05, 0.1, 0.0,
  -0.05, 0.0, 0.05, 0.0, -0.05, -0.05, 0.0, 0.05, 0.0, 0.05,
  0.05, 0.0, 0.05, 0.1, 0.05, 0.05
];
const dBlue = [
  0.18, 0.1, 0.02, 0.02, 0.02, -0.02, -0.07, -0.2, -0.4, -0.57,
  -0.4, -0.15, 0.0, 0.05, 0.1, 0.1, 0.2, 0.27, 0.35, 0.1,
  0.1, 0.1, 0.15, 0.18, 0.05, 0.02, 0.05, 0.1, 0.15, 0.18,
  0.15, 0.1, 0.2, 0.27, 0.4, 0.52, 0.18, -0.1, -0.23, -0.4,
  -0.35, -0.3, -0.35, -0.48, -0.3, -0.1, -0.05, 0.05, 0.1, 0.1,
  0.15, 0.18, 0.1, 0.02, 0.0, -0.07, -0.2, -0.4, -0.48, -0.3,
  -0.15, -0.2, -0.3, -0.1, 0.02, 0.1, 0.18, 0.15, 0.1, 0.05,
  0.05, 0.02, 0.0, -0.05, -0.07, -0.05, 0.02, 0.0, -0.1, -0.15,
  0.0, 0.1, 0.05, 0.0, 0.05, 0.0, 0.0, 0.05, 0.0, -0.05,
  0.0, 0.05, -0.05, 0.0, 0.0, -0.05, 0.05, 0.05, 0.1, 0.1,
  0.05, 0.05, 0.0, 0.0, 0.05, 0.05, 0.05, 0.0, 0.05, -0.05,
  -0.05, 0.0, -0.05, 0.0, 0.0, 0.0, 0.05, 0.0, 0.05, 0.05,
  0.05, 0.1, 0.05, 0.0, 0.0, 0.0, -0.05, -0.1, -0.15, -0.1,
  -0.05, -0.05, -0.05, 0.0, -0.05, 0.0, 0.0, 0.05, 0.05, 0.0,
  -0.05, 0.0, 0.05, 0.0, -0.05, -0.05, 0.0, 0.0, 0.0, 0.05,
  0.05, 0.0, 0.05, 0.05, 0.05, 0.05
];
const dRed = [
  0.15, 0.05, 0.0, 0.05, 0.0, -0.05, 0.05, 0.0, -0.05, 0.05,
  0.0, -0.05, 0.05, 0.0, 0.05, 0.1, 0.0, 0.05, 0.1, 0.0,
  0.05, -0.05, 0.0, 0.05, 0.1, 0.0, 0.05, 0.0, -0.05, 0.05,
  0.0, 0.05, 0.0, -0.05, 0.05, 0.0, -0.05, 0.05, 0.0, -0.05,
  0.0, 0.05, -0.05, 0.0, 0.05, 0.0, 0.05, 0.0, -0.05, 0.05,
  0.0, 0.05, 0.0, -0.05, 0.0, 0.05, 0.0, -0.05, 0.05, 0.0,
  0.05, 0.0, -0.05, 0.0, 0.05, 0.0, 0.05, 0.0, -0.05, 0.0,
  0.05, 0.0, -0.05, 0.0, 0.05, 0.0, -0.05, 0.0, 0.05, 0.0,
  -0.05, 0.0, 0.05, 0.0, 0.0, -0.05, 0.0, 0.05, 0.0, -0.05,
  0.0, 0.05, 0.0, -0.05, 0.0, 0.0, 0.05, 0.0, 0.05, 0.05,
  0.0, 0.0, 0.05, 0.0, -0.05, 0.0, 0.05, 0.0, 0.0, -0.05,
  0.0, 0.0, -0.05, 0.0, 0.05, 0.0, 0.0, 0.05, 0.0, 0.05,
  0.05, 0.05, 0.0, 0.0, -0.05, 0.0, -0.05, -0.05, -0.1, -0.05,
  -0.05, 0.0, 0.0, -0.05, 0.0, 0.0, 0.05, 0.0, 0.05, 0.0,
  0.0, -0.05, 0.0, 0.0, 0.05, 0.0, -0.05, 0.0, 0.0, 0.05,
  0.0, 0.05, 0.0, 0.05, 0.05, 0.05
];

const FONT = 'DejaVu Sans';

function zip(xs: number[], ys: number[]): number[][] {
  const out: number[][] = [];
  const n = Math.min(xs.length, ys.length);
  for (let i = 0; i < n; i++) out.push([xs[i], ys[i]]);
  return out;
}

export default function App() {
  const ref = useRef<HTMLDivElement>(null);
  useEffect(() => {
    document.body.style.margin = '0';
    if (!ref.current) return;
    const chart = echarts.init(ref.current, undefined, { renderer: 'svg' });

    const panels = [
      { grid: { left: 41, top: 6.5, width: 339, height: 240 }, range: [268.5, 330.6], ticks: band12Ticks,
        data: [aGreen, aBlue, aRed], yName: true, legend: { left: 234, top: 15 },
        tag: ['(a)', 132, 43], note: ['Band1-2:Without soft', 159, 202] },
      { grid: { left: 416, top: 6.5, width: 340, height: 240 }, range: [268.5, 330.6], ticks: band12Ticks,
        data: [bGreen, bBlue, bRed], yName: false, legend: { left: 609, top: 15 },
        tag: ['(b)', 507, 43], note: ['Band1-2:With soft', 534, 202] },
      { grid: { left: 41, top: 292, width: 339, height: 240 }, range: [313.25, 340.85], ticks: band3Ticks,
        data: [zip(band3X, cGreen), zip(band3X, cBlue), zip(band3X, cRed)], yName: true, legend: { left: 234, top: 295 },
        tag: ['(c)', 125, 328], note: ['Band3:Without soft', 125, 488] },
      { grid: { left: 416, top: 292, width: 339, height: 240 }, range: [313.25, 340.85], ticks: band3Ticks,
        data: [zip(band3X, dGreen), zip(band3X, dBlue), zip(band3X, dRed)], yName: false, legend: { left: 609, top: 295 },
        tag: ['(d)', 499, 328], note: ['Band3:With soft', 499, 488] },
    ];

    const grids = panels.map((p) => ({ ...p.grid, show: true, borderColor: '#3a3a3a', borderWidth: 1, backgroundColor: 'transparent' }));
    const xAxes = panels.map((p, i) => ({
      type: 'value', gridIndex: i, min: p.range[0], max: p.range[1],
      axisLine: { show: false },
      axisTick: { show: true, inside: false, length: 4, lineStyle: { color: '#333' }, customValues: p.ticks },
      axisLabel: { show: true, customValues: p.ticks, fontSize: 14, color: '#000', fontFamily: FONT, margin: 5 },
      splitLine: { show: false },
      name: 'wavelength (nm)', nameLocation: 'middle', nameGap: 19,
      nameTextStyle: { fontSize: 14, color: '#000', fontFamily: FONT },
    }));
    const yAxes = panels.map((p, i) => ({
      type: 'value', gridIndex: i, min: -4, max: 8, interval: 2,
      axisLine: { show: false },
      axisTick: { show: true, inside: false, length: 4, lineStyle: { color: '#333' } },
      axisLabel: { fontSize: 14, color: '#000', fontFamily: FONT, margin: 6,
        formatter: (v: number) => String(v).replace('-', '\u2212') },
      splitLine: { show: false },
      name: p.yName ? 'residual (%)' : '', nameLocation: 'middle', nameGap: 26,
      nameTextStyle: { fontSize: 14, color: '#000', fontFamily: FONT },
    }));

    const series: any[] = [];
    panels.forEach((p, i) => {
      p.data.forEach((d, k) => {
        series.push({
          type: 'line', name: LEGEND_NAMES[k], xAxisIndex: i, yAxisIndex: i, data: d,
          symbol: 'circle', symbolSize: 2.6, showSymbol: true, showAllSymbol: true,
          lineStyle: { width: 1.2, color: COLORS[k] }, itemStyle: { color: COLORS[k] },
          emphasis: { disabled: true }, silent: true, clip: true, z: 2 + k,
          markLine: k === 2 ? {
            silent: true, symbol: 'none', label: { show: false },
            lineStyle: { color: '#000', type: [4, 2], width: 1 },
            data: [{ yAxis: 0 }],
          } : undefined,
        });
      });
    });

    const legends = panels.map((p) => ({
      left: p.legend.left, top: p.legend.top, orient: 'vertical', data: LEGEND_NAMES,
      itemWidth: 28, itemHeight: 5, itemGap: 4.5, padding: [5, 6, 5, 5],
      backgroundColor: '#ffffff', borderColor: '#cccccc', borderWidth: 1, borderRadius: 4,
      selectedMode: false,
      textStyle: { fontSize: 13.5, color: '#000', fontFamily: FONT, padding: [0, 0, 0, 6] },
    }));

    const graphics: any[] = [];
    panels.forEach((p) => {
      [p.tag, p.note].forEach((t: any) => {
        graphics.push({
          type: 'text', x: t[1], y: t[2], silent: true,
          style: { text: t[0], fill: '#000', font: `13.5px "${FONT}"`, align: 'left', verticalAlign: 'middle' },
        });
      });
    });

    chart.setOption({
      animation: false,
      textStyle: { fontFamily: FONT },
      grid: grids,
      xAxis: xAxes,
      yAxis: yAxes,
      legend: legends,
      series,
      graphic: graphics,
    });
    return () => chart.dispose();
  }, []);
  return <div ref={ref} style={{ width: 765, height: 567 }} />;
}
